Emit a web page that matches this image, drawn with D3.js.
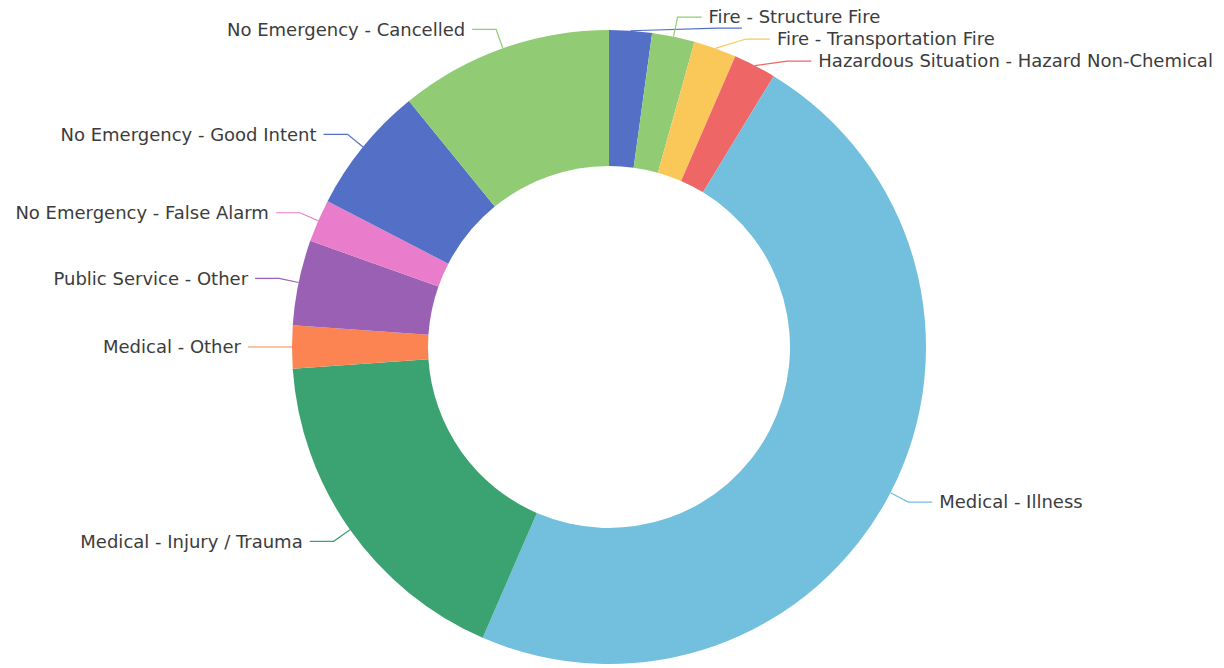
<!DOCTYPE html>
<html>
<head>
<meta charset="utf-8">
<script src="https://cdn.jsdelivr.net/npm/d3@7"></script>
<style>
  body { margin: 0; background: #fff; }
  svg { display: block; }
  .label { font-family: "DejaVu Sans", sans-serif; font-size: 18px; fill: #3c3c3c;
           stroke: #fff; stroke-width: 3px; stroke-linejoin: round; paint-order: stroke fill; }
</style>
</head>
<body>
<div id="chart"></div>
<script>
// incident types, clockwise from 12 o'clock
var categories = [
    "Fire - Other",
    "Fire - Structure Fire",
    "Fire - Transportation Fire",
    "Hazardous Situation - Hazard Non-Chemical",
    "Medical - Illness",
    "Medical - Injury / Trauma",
    "Medical - Other",
    "Public Service - Other",
    "No Emergency - False Alarm",
    "No Emergency - Good Intent",
    "No Emergency - Cancelled"
];
var counts = [1, 1, 1, 1, 22, 8, 1, 2, 1, 3, 5];
var colors = ["#5470c6", "#91cc75", "#fac858", "#ee6666", "#73c0de", "#3ba272",
              "#fc8452", "#9a60b4", "#ea7ccc", "#5470c6", "#91cc75"];
// labels dropped because they collide with a neighbour
var hiddenLabels = ["Fire - Other"];

var data = categories.map(function(c, i) {
    return {name: c, count: counts[i], color: colors[i]};
});

var width = 1224, height = 668,
    cx = 609, cy = 347,
    outerR = 317, innerR = 181,
    len1 = 20, len2 = 24, gap = 7, labelH = 22;

var svg = d3.select("#chart").append("svg")
    .attr("width", width)
    .attr("height", height);

var g = svg.append("g").attr("transform", "translate(" + cx + "," + cy + ")");

var pie = d3.pie().sort(null).value(function(d) { return d.count; });
var arc = d3.arc().innerRadius(innerR).outerRadius(outerR);
var arcs = pie(data);

g.selectAll("path.slice")
    .data(arcs)
    .join("path")
    .attr("class", "slice")
    .attr("d", arc)
    .attr("fill", function(d) { return d.data.color; });

// label layout: radial segment, then horizontal segment, pushed down when crowded
var r1 = outerR + len1;
var labels = arcs.map(function(a, i) {
    var mid = (a.startAngle + a.endAngle) / 2;
    return {
        i: i,
        name: a.data.name,
        color: a.data.color,
        hidden: hiddenLabels.indexOf(a.data.name) >= 0,
        side: Math.sin(mid) >= 0 ? 1 : -1,
        p0: [Math.sin(mid) * outerR, -Math.cos(mid) * outerR],
        x1: Math.sin(mid) * r1,
        y: -Math.cos(mid) * r1,
        shifted: false
    };
});

[1, -1].forEach(function(side) {
    var list = labels.filter(function(l) { return l.side === side && !l.hidden; })
        .sort(function(a, b) { return a.y - b.y; });
    var lastBottom = -cy;
    list.forEach(function(l) {
        var top = l.y - labelH / 2;
        if (top < lastBottom) {
            l.y += lastBottom - top;
            l.shifted = true;
        }
        lastBottom = l.y + labelH / 2;
    });
});

// hidden labels keep their line, tucked between the next two labels
labels.forEach(function(l) {
    if (!l.hidden) return;
    var next = labels.filter(function(o) { return o.side === l.side && !o.hidden && o.i > l.i; });
    if (next.length >= 2) {
        l.y = (next[0].y + next[1].y) / 2;
        l.shifted = true;
    }
});

labels.forEach(function(l) {
    if (l.shifted && Math.abs(l.y) < r1) {
        l.x1 = l.side * Math.sqrt(r1 * r1 - l.y * l.y);
    }
    l.x2 = l.x1 + l.side * len2;
});

var line = d3.line();

g.selectAll("path.leader")
    .data(labels)
    .join("path")
    .attr("class", "leader")
    .attr("fill", "none")
    .attr("stroke", function(d) { return d.color; })
    .attr("stroke-width", 1.2)
    .attr("d", function(d) { return line([d.p0, [d.x1, d.y], [d.x2, d.y]]); });

g.selectAll("text.label")
    .data(labels.filter(function(l) { return !l.hidden; }))
    .join("text")
    .attr("class", "label")
    .attr("x", function(d) { return d.x2 + d.side * gap; })
    .attr("y", function(d) { return d.y; })
    .attr("dy", "0.35em")
    .attr("text-anchor", function(d) { return d.side > 0 ? "start" : "end"; })
    .text(function(d) { return d.name; });
</script>
</body>
</html>
